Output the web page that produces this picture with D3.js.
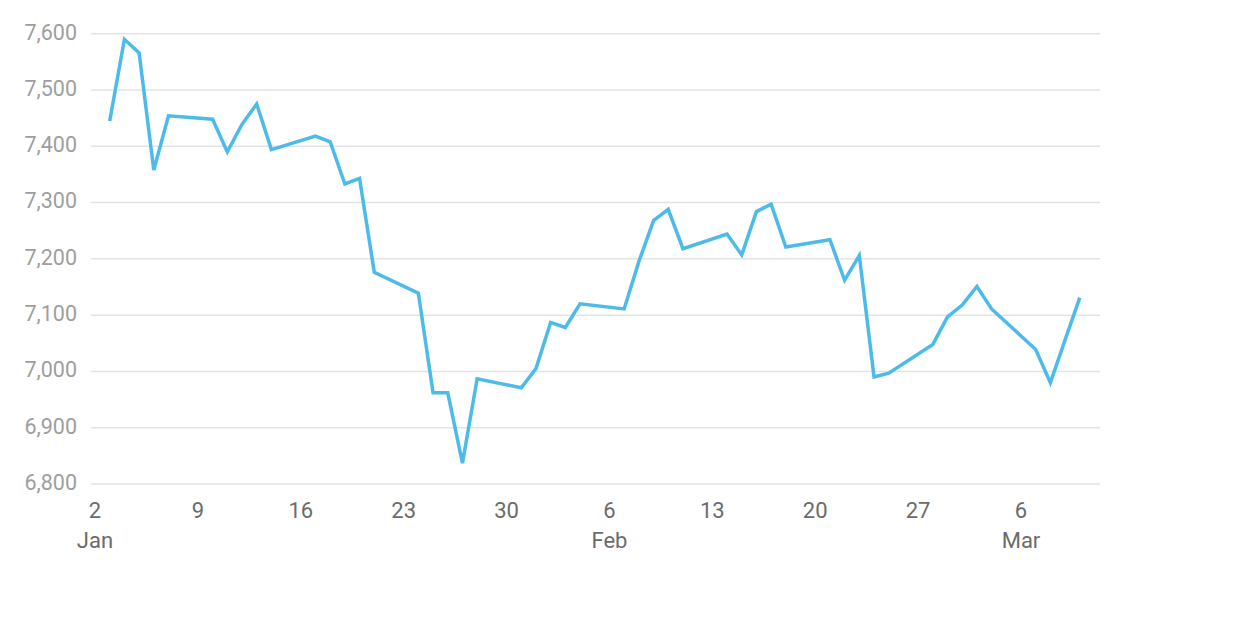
<!DOCTYPE html>
<html>
<head>
<meta charset="utf-8">
<script src="https://cdn.jsdelivr.net/npm/d3@7"></script>
<style>
  html, body { margin: 0; padding: 0; background: #fff; }
  svg { display: block; font-family: Roboto, "Noto Sans", sans-serif; }
</style>
</head>
<body>
<svg id="chart" width="1240" height="640"></svg>
<script>
// ---- data ----
const dates = [
  "2022-01-03","2022-01-04","2022-01-05","2022-01-06","2022-01-07",
  "2022-01-10","2022-01-11","2022-01-12","2022-01-13","2022-01-14",
  "2022-01-17","2022-01-18","2022-01-19","2022-01-20","2022-01-21",
  "2022-01-24","2022-01-25","2022-01-26","2022-01-27","2022-01-28",
  "2022-01-31","2022-02-01","2022-02-02","2022-02-03","2022-02-04",
  "2022-02-07","2022-02-08","2022-02-09","2022-02-10","2022-02-11",
  "2022-02-14","2022-02-15","2022-02-16","2022-02-17","2022-02-18",
  "2022-02-21","2022-02-22","2022-02-23","2022-02-24","2022-02-25",
  "2022-02-28","2022-03-01","2022-03-02","2022-03-03","2022-03-04",
  "2022-03-07","2022-03-08","2022-03-09","2022-03-10"
];
const values = [
  7445, 7590, 7566, 7358, 7454,
  7448, 7390, 7439, 7475, 7394,
  7418, 7408, 7333, 7343, 7176,
  7139, 6962, 6962, 6837, 6987,
  6971, 7005, 7087, 7078, 7120,
  7111, 7195, 7268, 7288, 7218,
  7244, 7207, 7284, 7297, 7221,
  7234, 7162, 7206, 6990, 6997,
  7048, 7097, 7118, 7151, 7111,
  7039, 6980, 7056, 7131
];
const yTicks = [6800, 6900, 7000, 7100, 7200, 7300, 7400, 7500, 7600];
const xTickStart = "2022-01-02";
const xTickEnd = "2022-03-06";
const monthNames = ["Jan","Feb","Mar","Apr","May","Jun","Jul","Aug","Sep","Oct","Nov","Dec"];

// ---- layout ----
const gridLeft = 91, gridRight = 1100;
const parse = d3.utcParse("%Y-%m-%d");
const data = dates.map((d, i) => ({ date: parse(d), value: values[i] }));

const x = d3.scaleUtc()
  .domain([parse(xTickStart), parse(xTickEnd)])
  .range([95, 1021]);
const y = d3.scaleLinear()
  .domain([6800, 7600])
  .range([484, 33.7]);

const svg = d3.select("#chart");

// grid lines
svg.append("g")
  .selectAll("line")
  .data(yTicks)
  .join("line")
  .attr("x1", gridLeft)
  .attr("x2", gridRight)
  .attr("y1", d => y(d))
  .attr("y2", d => y(d))
  .attr("stroke", "#e3e3e3")
  .attr("stroke-width", 1.5);

// y labels
const fmt = d3.format(",");
svg.append("g")
  .selectAll("text")
  .data(yTicks)
  .join("text")
  .attr("x", 77)
  .attr("y", d => y(d))
  .attr("dy", "0.27em")
  .attr("text-anchor", "end")
  .attr("fill", "#9e9e9e")
  .attr("font-size", 21.5)
  .text(d => fmt(d));

// x labels
const xTicks = d3.utcSunday.range(parse(xTickStart), d3.utcDay.offset(parse(xTickEnd), 1));
let lastMonth = -1;
const xg = svg.append("g");
xTicks.forEach(t => {
  xg.append("text")
    .attr("x", x(t))
    .attr("y", 518)
    .attr("text-anchor", "middle")
    .attr("fill", "#6b6b6b")
    .attr("font-size", 22)
    .text(t.getUTCDate());
  if (t.getUTCMonth() !== lastMonth) {
    lastMonth = t.getUTCMonth();
    xg.append("text")
      .attr("x", x(t))
      .attr("y", 548)
      .attr("text-anchor", "middle")
      .attr("fill", "#6b6b6b")
      .attr("font-size", 22)
      .text(monthNames[t.getUTCMonth()]);
  }
});

// line
const line = d3.line()
  .x(d => x(d.date))
  .y(d => y(d.value));

svg.append("path")
  .datum(data)
  .attr("fill", "none")
  .attr("stroke", "#4dbbea")
  .attr("stroke-width", 3.5)
  .attr("stroke-linejoin", "miter")
  .attr("stroke-linecap", "butt")
  .attr("d", line);
</script>
</body>
</html>
